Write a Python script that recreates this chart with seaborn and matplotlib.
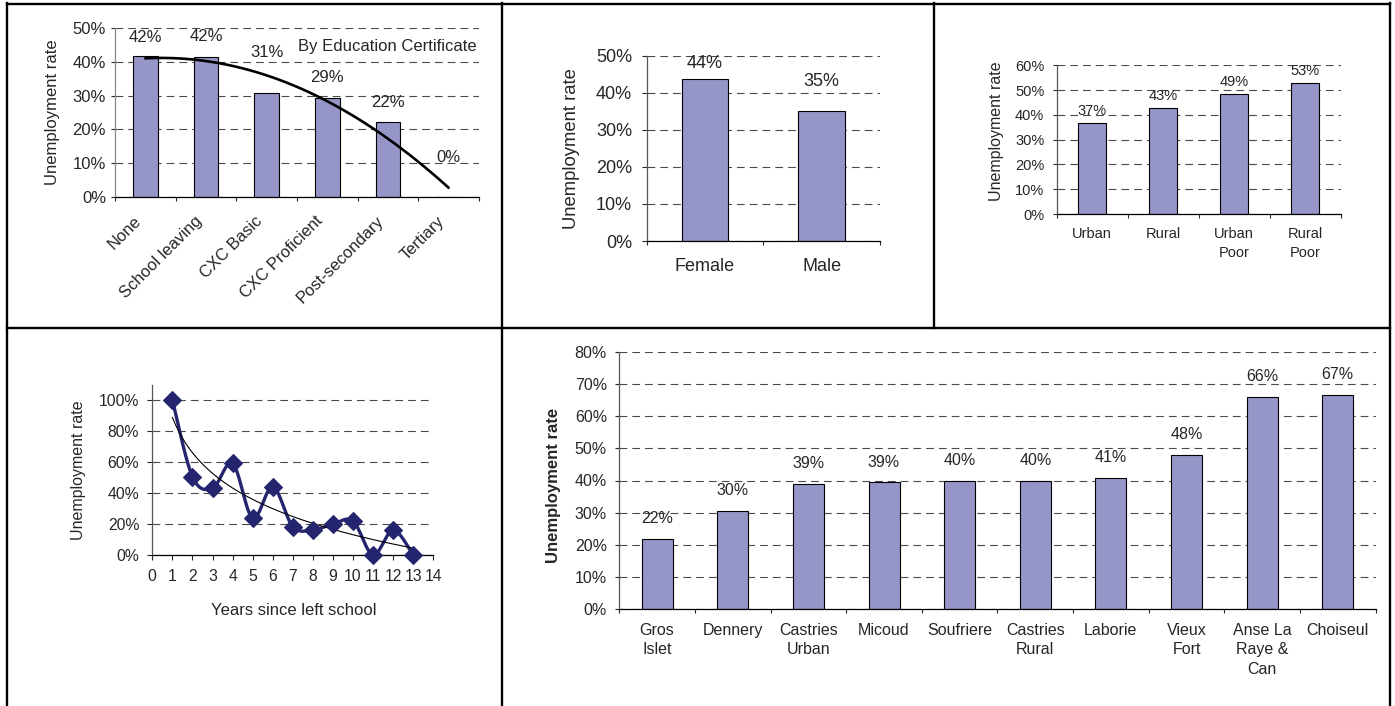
import numpy as np
import matplotlib
matplotlib.use("Agg")
import matplotlib.pyplot as plt
import seaborn as sns
from matplotlib.lines import Line2D
from matplotlib.transforms import ScaledTranslation
from matplotlib.ticker import PercentFormatter, MultipleLocator

# === Data ===
edu_levels = ['None', 'School leaving', 'CXC Basic', 'CXC Proficient', 'Post-secondary', 'Tertiary']
edu_rates = [0.417, 0.415, 0.308, 0.294, 0.221, 0.0]

sex_groups = ['Female', 'Male']
sex_rates = [0.436, 0.351]

area_groups = ['Urban', 'Rural', 'Urban\nPoor', 'Rural\nPoor']
area_rates = [0.368, 0.426, 0.486, 0.530]

years_since_school = [1, 2, 3, 4, 5, 6, 7, 8, 9, 10, 11, 12, 13]
years_rates = [1.0, 0.505, 0.43, 0.591, 0.237, 0.441, 0.183, 0.161, 0.20, 0.219, 0.0, 0.161, 0.0]

districts = ['Gros\nIslet', 'Dennery', 'Castries\nUrban', 'Micoud', 'Soufriere', 'Castries\nRural',
             'Laborie', 'Vieux\nFort', 'Anse La\nRaye &\nCan', 'Choiseul']
district_rates = [0.219, 0.305, 0.390, 0.394, 0.400, 0.400, 0.409, 0.481, 0.662, 0.667]

BAR = '#9595c8'
NAVY = '#25256f'
GRID = '#4a4a4a'
DASH = (0, (7, 4.5))
W, H = 1395, 706

sns.set_style('ticks')
plt.rcParams['font.family'] = ['Liberation Sans', 'DejaVu Sans']

fig = plt.figure(figsize=(W / 100, H / 100), dpi=100)


def px_axes(x0, y0, x1, y1):
    # axes box given in pixels from the top-left corner
    return fig.add_axes([x0 / W, 1 - y1 / H, (x1 - x0) / W, (y1 - y0) / H])


def style_y(ax, ymax, step, fs, pad, tlen=2.9):
    ax.set_ylim(0, ymax)
    ax.yaxis.set_major_locator(MultipleLocator(step))
    ax.yaxis.set_major_formatter(PercentFormatter(1.0, decimals=0))
    ax.grid(axis='y', linestyle=DASH, color=GRID, lw=0.8)
    ax.set_axisbelow(True)
    ax.tick_params(axis='y', length=tlen, width=0.8, pad=pad, labelsize=fs, direction='out')
    for s in ['top', 'right']:
        ax.spines[s].set_visible(False)
    ax.spines['left'].set_color('#555555')
    ax.spines['left'].set_linewidth(0.9)
    ax.spines['bottom'].set_color('black')
    ax.spines['bottom'].set_linewidth(0.9)


def bar_panel(ax, cats, vals, width, fs, lifts, xpad, linespacing=1.2):
    sns.barplot(x=cats, y=vals, color=BAR, saturation=1, width=width,
                edgecolor='black', linewidth=0.8, ax=ax)
    for i, (v, lift) in enumerate(zip(vals, lifts)):
        ax.annotate(f'{v:.0%}', (i, v), xytext=(0, lift), textcoords='offset pixels',
                    ha='center', va='center', fontsize=fs)
    n = len(cats)
    ax.set_xlim(-0.5, n - 0.5)
    ax.set_xticks(np.arange(n + 1) - 0.5, minor=True)
    ax.tick_params(axis='x', which='major', length=0, pad=xpad, labelsize=fs)
    ax.tick_params(axis='x', which='minor', length=2.9, width=0.8, direction='out')
    for lab in ax.get_xticklabels():
        lab.set_linespacing(linespacing)
        lab.set_multialignment('center')


# === 1. By education certificate ===
ax1 = px_axes(115, 28, 479, 197)
bar_panel(ax1, edu_levels, edu_rates, 0.41, 12, [19, 20, 40, 20, 20, 39], 3)
style_y(ax1, 0.5, 0.1, 12, 3.5)
ax1.spines['left'].set_color('#888888')
coef = np.polyfit(np.arange(len(edu_rates)), edu_rates, 2)
xs = np.linspace(0, len(edu_rates) - 1, 80)
ax1.plot(xs, np.polyval(coef, xs), color='black', lw=1.9)
shift = ScaledTranslation(-0.12, -0.12, fig.dpi_scale_trans)
for lab in ax1.get_xticklabels():
    lab.set_rotation(45)
    lab.set_ha('right')
    lab.set_va('top')
    lab.set_rotation_mode('anchor')
    lab.set_transform(lab.get_transform() + shift)
ax1.text(0.747, 0.888, 'By Education Certificate', transform=ax1.transAxes,
         ha='center', va='center', fontsize=12)
ax1.set_ylabel('Unemployment rate', fontsize=12, va='center')
ax1.yaxis.set_label_coords(-0.173, 0.5)

# === 2. By sex ===
ax2 = px_axes(646.7, 55.7, 880, 241)
bar_panel(ax2, sex_groups, sex_rates, 0.40, 13, [16, 29], 12)
style_y(ax2, 0.5, 0.1, 13, 7, tlen=3.6)
ax2.set_ylabel('Unemployment rate', fontsize=13.3, va='center')
ax2.yaxis.set_label_coords(-0.3215, 0.5)

# === 3. By area and poverty ===
ax3 = px_axes(1056.7, 65.3, 1340.7, 214)
bar_panel(ax3, area_groups, area_rates, 0.40, 10.5, [12, 12, 12, 12], 9.4, linespacing=1.45)
style_y(ax3, 0.6, 0.1, 10.5, 6)
ax3.set_ylabel('Unemployment rate', fontsize=11.5, va='center')
ax3.yaxis.set_label_coords(-0.211, 0.56)

# === 4. By years since left school ===
ax4 = px_axes(152.3, 384.5, 433.3, 555)


def smooth(x, y, steps=24):
    # Bezier smoothing through the points, like a spreadsheet "smoothed line"
    p = np.column_stack([x, y]).astype(float)
    out = []
    for i in range(len(p) - 1):
        p0 = p[max(i - 1, 0)]
        p1, p2 = p[i], p[i + 1]
        p3 = p[min(i + 2, len(p) - 1)]
        c1 = p1 + (p2 - p0) / 6
        c2 = p2 - (p3 - p1) / 6
        t = np.linspace(0, 1, steps)[:, None]
        out.append((1 - t) ** 3 * p1 + 3 * (1 - t) ** 2 * t * c1 + 3 * (1 - t) * t ** 2 * c2 + t ** 3 * p2)
    out = np.vstack(out)
    return out[:, 0], out[:, 1]


sx, sy = smooth(years_since_school, years_rates)
ax4.plot(sx, sy, color=NAVY, lw=2.4, zorder=3)
sns.scatterplot(x=years_since_school, y=years_rates, marker='D', s=80, color=NAVY,
                edgecolor=NAVY, linewidth=1, ax=ax4, zorder=4, clip_on=False)
lc = np.polyfit(np.log(years_since_school), years_rates, 1)
tx = np.linspace(1, 13, 80)
ax4.plot(tx, lc[0] * np.log(tx) + lc[1], color='black', lw=0.8, zorder=3)
style_y(ax4, 1.1, 0.2, 11.3, 6, tlen=3.4)
ax4.set_yticks(np.arange(0, 1.01, 0.2))
ax4.set_xlim(0, 14)
ax4.xaxis.set_major_locator(MultipleLocator(1))
ax4.tick_params(axis='x', length=3.4, width=0.8, pad=7, labelsize=11.3, direction='out')
ax4.set_ylabel('Unemployment rate', fontsize=11.5, va='center')
ax4.yaxis.set_label_coords(-0.264, 0.5)
ax4.set_xlabel('Years since left school', fontsize=12, va='center')
ax4.xaxis.set_label_coords(0.502, -0.3226)

# === 5. By district ===
ax5 = px_axes(619.3, 352.3, 1375.6, 608.7)
bar_panel(ax5, districts, district_rates, 0.41, 11.5, [20] * len(districts), 10, linespacing=1.4)
style_y(ax5, 0.8, 0.1, 11.5, 6)
ax5.set_ylabel('Unemployment rate', fontsize=12, fontweight='bold', va='center')
ax5.yaxis.set_label_coords(-0.0873, 0.48)

# === Table frame around the panels ===
frame = [((7, 4), (1390, 4)), ((7, 328), (1390, 328)), ((7, 3), (7, 706)),
         ((502, 3), (502, 706)), ((934, 3), (934, 328)), ((1389.5, 3), (1389.5, 706))]
for (xa, ya), (xb, yb) in frame:
    fig.add_artist(Line2D([xa / W, xb / W], [1 - ya / H, 1 - yb / H], transform=fig.transFigure,
                          color='black', lw=1.7, solid_capstyle='projecting'))

fig.savefig('out.png', dpi=100)
